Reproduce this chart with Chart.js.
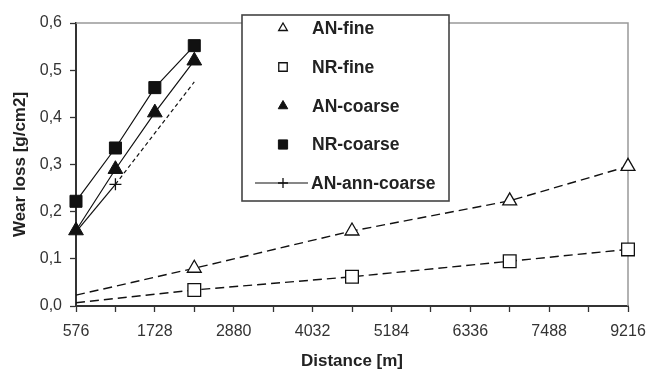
<!DOCTYPE html>
<html>
<head>
<meta charset="utf-8">
<script src="https://cdn.jsdelivr.net/npm/chart.js@4/dist/chart.umd.min.js"></script>
<style>
  body { margin: 0; background: #fff; }
  #wrap { width: 647px; height: 370px; }
</style>
</head>
<body>
<div id="wrap"><canvas id="wearChart" width="647" height="370"></canvas></div>
<script>
// Kategorier på x-aksen (hver strek = 576 m, tall bare på annenhver)
const distLabels = ['576', '', '1728', '', '2880', '', '4032', '', '5184', '', '6336', '', '7488', '', '9216'];

// Måleverdier lest av bildet (g/cm2)
const anFine      = [0.023, null, null, 0.080, null, null, null, 0.159, null, null, null, 0.223, null, null, 0.296];
const nrFine      = [0.007, null, null, 0.034, null, null, null, 0.062, null, null, null, 0.095, null, null, 0.120];
const anCoarse    = [0.160, 0.290, 0.410, 0.520];
const nrCoarse    = [0.222, 0.335, 0.463, 0.552];
const anAnnCoarse = [0.157, 0.258, null, 0.475];

const yTicks = [0, 0.1, 0.2, 0.3, 0.4, 0.5, 0.6];

const ink = '#111';

// første punkt på fine-kurvene har ingen markør
function fineRadius(r) {
  return ctx => ctx.dataIndex === 0 ? 0 : r;
}

const datasets = [
  {
    label: 'AN-fine', data: anFine, spanGaps: true,
    borderColor: ink, borderWidth: 1.4, borderDash: [9, 5],
    pointStyle: 'triangle', pointRadius: fineRadius(8),
    pointBackgroundColor: '#fff', pointBorderColor: ink, pointBorderWidth: 1.3,
    legendRadius: 5
  },
  {
    label: 'NR-fine', data: nrFine, spanGaps: true,
    borderColor: ink, borderWidth: 1.4, borderDash: [9, 5],
    pointStyle: 'rect', pointRadius: fineRadius(9),
    pointBackgroundColor: '#fff', pointBorderColor: ink, pointBorderWidth: 1.3,
    legendRadius: 6
  },
  {
    label: 'AN-coarse', data: anCoarse,
    borderColor: ink, borderWidth: 1.2,
    pointStyle: 'triangle', pointRadius: 8.5,
    pointBackgroundColor: ink, pointBorderColor: ink, pointBorderWidth: 1,
    legendRadius: 5.5
  },
  {
    label: 'NR-coarse', data: nrCoarse,
    borderColor: ink, borderWidth: 1.2,
    pointStyle: 'rect', pointRadius: 8.5,
    pointBackgroundColor: ink, pointBorderColor: ink, pointBorderWidth: 1,
    legendRadius: 6.5
  },
  {
    label: 'AN-ann-coarse', data: anAnnCoarse, spanGaps: true,
    borderColor: ink, borderWidth: 1.2,
    segment: { borderDash: ctx => ctx.p0DataIndex >= 1 ? [4, 3] : [] },
    pointStyle: 'cross', pointRadius: ctx => ctx.dataIndex === 1 ? 6 : 0,
    pointBorderColor: ink, pointBorderWidth: 1.3,
    legendRadius: 5, legendLine: true
  }
];

datasets.forEach(d => { d.fill = false; d.tension = 0; d.pointHoverRadius = d.pointRadius; });

// Ramme rundt plottet og egen forklaringsboks
const framePlugin = {
  id: 'frame',
  beforeDatasetsDraw(chart) {
    const { ctx, chartArea: a } = chart;
    ctx.save();
    ctx.strokeStyle = '#999';
    ctx.lineWidth = 1.5;
    ctx.beginPath();
    ctx.moveTo(a.left, a.top);
    ctx.lineTo(a.right, a.top);
    ctx.lineTo(a.right, a.bottom);
    ctx.stroke();
    ctx.restore();
  },
  afterDatasetsDraw(chart) {
    const ctx = chart.ctx;
    const box = { x: 242, y: 15, w: 207, h: 186 };
    ctx.save();
    ctx.fillStyle = '#fff';
    ctx.fillRect(box.x, box.y, box.w, box.h);
    ctx.strokeStyle = '#444';
    ctx.lineWidth = 1.6;
    ctx.strokeRect(box.x, box.y, box.w, box.h);

    const rowY = [28, 67, 106, 144.5, 183];
    chart.data.datasets.forEach((d, i) => {
      const y = rowY[i];
      const mx = 283;
      if (d.legendLine) {
        ctx.strokeStyle = ink;
        ctx.lineWidth = 1.2;
        ctx.setLineDash([]);
        ctx.beginPath();
        ctx.moveTo(255, y);
        ctx.lineTo(308, y);
        ctx.stroke();
      }
      ctx.fillStyle = d.pointBackgroundColor || ink;
      ctx.strokeStyle = d.pointBorderColor;
      ctx.lineWidth = d.pointBorderWidth;
      Chart.helpers.drawPoint(ctx, {
        pointStyle: d.pointStyle, radius: d.legendRadius, rotation: 0,
        borderWidth: d.pointBorderWidth
      }, mx, y);
      ctx.fillStyle = '#222';
      ctx.font = 'bold 17.5px "Liberation Sans", Arial, sans-serif';
      ctx.textAlign = 'left';
      ctx.textBaseline = 'middle';
      ctx.fillText(d.label, d.legendLine ? 311 : 312, y + 1);
    });
    ctx.restore();
  }
};

Chart.defaults.font.family = '"Liberation Sans", Arial, sans-serif';
Chart.defaults.color = '#333';

new Chart(document.getElementById('wearChart'), {
  type: 'line',
  data: { labels: distLabels, datasets: datasets },
  options: {
    responsive: false,
    animation: false,
    layout: { padding: { left: 0, right: 19, top: 23, bottom: 0 } },
    plugins: {
      legend: { display: false },
      tooltip: { enabled: false }
    },
    scales: {
      x: {
        type: 'category',
        offset: false,
        grid: {
          offset: false, drawOnChartArea: false, drawTicks: true,
          tickLength: 6, tickColor: '#333', tickWidth: 1.3
        },
        border: { color: '#333', width: 2 },
        ticks: {
          autoSkip: false, maxRotation: 0, padding: 10,
          font: { size: 16 }, color: '#333'
        },
        title: {
          display: true, text: 'Distance [m]',
          font: { size: 17, weight: 'bold' }, color: '#222',
          padding: { top: 2, bottom: -2 }
        },
        afterFit(scale) {
          scale.height = 64;
          scale.paddingLeft = 0;
          scale.paddingRight = 0;
        }
      },
      y: {
        min: 0, max: 0.6,
        afterBuildTicks(scale) { scale.ticks = yTicks.map(v => ({ value: v })); },
        grid: {
          drawOnChartArea: false, drawTicks: true,
          tickLength: 6, tickColor: '#333', tickWidth: 1.3
        },
        border: { color: '#333', width: 2 },
        ticks: {
          padding: 8, font: { size: 16 }, color: '#333',
          callback: v => v.toFixed(1).replace('.', ',')
        },
        title: {
          display: true, text: 'Wear loss [g/cm2]',
          font: { size: 17, weight: 'bold' }, color: '#222',
          padding: { top: 10, bottom: 0 }
        },
        afterFit(scale) {
          scale.width = 76;
          scale.paddingTop = 0;
          scale.paddingBottom = 0;
        }
      }
    }
  },
  plugins: [framePlugin]
});
</script>
</body>
</html>
